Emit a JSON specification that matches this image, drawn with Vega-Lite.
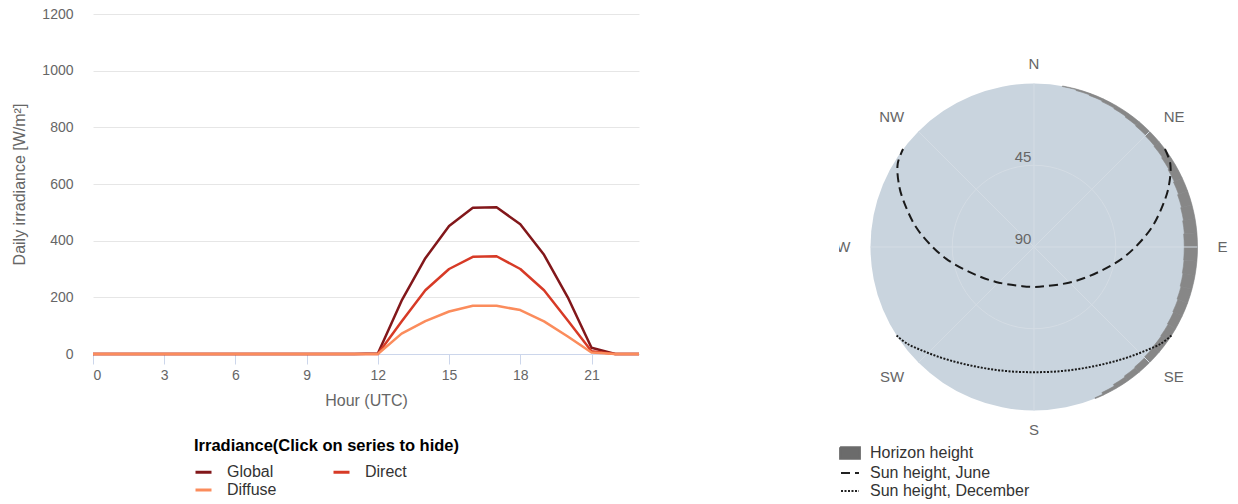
{
  "$schema": "https://vega.github.io/schema/vega-lite/v6.json",
  "padding": {"left": 11, "top": 7, "right": 0, "bottom": 0},
  "background": "white",
  "bounds": "flush",
  "spacing": 200,
  "config": {"view": {"stroke": null}, "font": "Liberation Sans"},
  "hconcat": [
    {
      "width": 546,
      "height": 340,
      "data": {"values": [
        {"hour":0,"series":"Global","value":0},{"hour":1,"series":"Global","value":0},{"hour":2,"series":"Global","value":0},{"hour":3,"series":"Global","value":0},{"hour":4,"series":"Global","value":0},{"hour":5,"series":"Global","value":0},{"hour":6,"series":"Global","value":0},{"hour":7,"series":"Global","value":0},{"hour":8,"series":"Global","value":0},{"hour":9,"series":"Global","value":0},{"hour":10,"series":"Global","value":0},{"hour":11,"series":"Global","value":0},{"hour":12,"series":"Global","value":2},{"hour":13,"series":"Global","value":188},{"hour":14,"series":"Global","value":338},{"hour":15,"series":"Global","value":452},{"hour":16,"series":"Global","value":516},{"hour":17,"series":"Global","value":518},{"hour":18,"series":"Global","value":458},{"hour":19,"series":"Global","value":350},{"hour":20,"series":"Global","value":200},{"hour":21,"series":"Global","value":22},{"hour":22,"series":"Global","value":0},{"hour":23,"series":"Global","value":0},
        {"hour":0,"series":"Direct","value":0},{"hour":1,"series":"Direct","value":0},{"hour":2,"series":"Direct","value":0},{"hour":3,"series":"Direct","value":0},{"hour":4,"series":"Direct","value":0},{"hour":5,"series":"Direct","value":0},{"hour":6,"series":"Direct","value":0},{"hour":7,"series":"Direct","value":0},{"hour":8,"series":"Direct","value":0},{"hour":9,"series":"Direct","value":0},{"hour":10,"series":"Direct","value":0},{"hour":11,"series":"Direct","value":0},{"hour":12,"series":"Direct","value":0},{"hour":13,"series":"Direct","value":115},{"hour":14,"series":"Direct","value":225},{"hour":15,"series":"Direct","value":300},{"hour":16,"series":"Direct","value":343},{"hour":17,"series":"Direct","value":345},{"hour":18,"series":"Direct","value":300},{"hour":19,"series":"Direct","value":225},{"hour":20,"series":"Direct","value":118},{"hour":21,"series":"Direct","value":10},{"hour":22,"series":"Direct","value":0},{"hour":23,"series":"Direct","value":0},
        {"hour":0,"series":"Diffuse","value":0},{"hour":1,"series":"Diffuse","value":0},{"hour":2,"series":"Diffuse","value":0},{"hour":3,"series":"Diffuse","value":0},{"hour":4,"series":"Diffuse","value":0},{"hour":5,"series":"Diffuse","value":0},{"hour":6,"series":"Diffuse","value":0},{"hour":7,"series":"Diffuse","value":0},{"hour":8,"series":"Diffuse","value":0},{"hour":9,"series":"Diffuse","value":0},{"hour":10,"series":"Diffuse","value":0},{"hour":11,"series":"Diffuse","value":0},{"hour":12,"series":"Diffuse","value":0},{"hour":13,"series":"Diffuse","value":72},{"hour":14,"series":"Diffuse","value":116},{"hour":15,"series":"Diffuse","value":150},{"hour":16,"series":"Diffuse","value":170},{"hour":17,"series":"Diffuse","value":170},{"hour":18,"series":"Diffuse","value":155},{"hour":19,"series":"Diffuse","value":115},{"hour":20,"series":"Diffuse","value":62},{"hour":21,"series":"Diffuse","value":5},{"hour":22,"series":"Diffuse","value":0},{"hour":23,"series":"Diffuse","value":0}
      ]},
      "mark": {"type": "line", "strokeWidth": 2.5, "strokeJoin": "round"},
      "encoding": {
        "x": {"field": "hour", "type": "quantitative", "scale": {"domain": [0, 23], "nice": false},
          "axis": {"values": [0,3,6,9,12,15,18,21], "title": "Hour (UTC)", "grid": false, "domainColor": "#ccd6eb", "tickColor": "#ccd6eb", "tickSize": 10, "labelFontSize": 14, "labelColor": "#666666", "labelPadding": 4, "titleFontSize": 16, "titleColor": "#666666", "titleFontWeight": "normal", "titlePadding": 10}},
        "y": {"field": "value", "type": "quantitative", "scale": {"domain": [0, 1200], "nice": false},
          "axis": {"values": [0,200,400,600,800,1000,1200], "format": "d", "title": "Daily irradiance [W/m²]", "grid": true, "gridColor": "#e6e6e6", "domain": false, "ticks": false, "labelFontSize": 14, "labelColor": "#666666", "labelPadding": 20, "titleFontSize": 16, "titleColor": "#666666", "titleFontWeight": "normal", "titlePadding": 14}},
        "color": {"field": "series", "type": "nominal",
          "scale": {"domain": ["Global", "Direct", "Diffuse"], "range": ["#82171a", "#d73a26", "#fb8c5c"]},
          "legend": {"orient": "none", "legendX": 101, "legendY": 424, "direction": "horizontal", "columns": 2, "columnPadding": 50, "rowPadding": 0, "title": "Irradiance(Click on series to hide)", "titleLimit": 500, "titleFontSize": 16.5, "titleFontWeight": "bold", "titleColor": "#000000", "titlePadding": 8, "symbolType": "stroke", "symbolSize": 256, "symbolStrokeWidth": 3, "labelFontSize": 16, "labelColor": "#333333", "labelOffset": 14, "padding": 0}}
      }
    },
    {
      "width": 390,
      "height": 466,
      "layer": [
        {
          "data": {"values": [{"az0": 0, "az1": 360, "eOut": 0, "eIn": 90}]},
          "mark": {"type": "arc", "fill": "#c9d4de"},
          "encoding": {
            "theta": {"field": "az0", "type": "quantitative", "scale": {"domain": [0, 360], "range": [0, 6.283185307179586]}},
            "theta2": {"field": "az1"},
            "radius": {"field": "eOut", "type": "quantitative", "scale": {"type": "linear", "domain": [0, 90], "range": [163.5, 0]}},
            "radius2": {"field": "eIn"}
          }
        },
        {
          "data": {"values": [
            {"az0":10,"az1":15,"e0":0,"hz":0.3},{"az0":15,"az1":20,"e0":0,"hz":0.8},{"az0":20,"az1":25,"e0":0,"hz":1.2},{"az0":25,"az1":30,"e0":0,"hz":1.7},{"az0":30,"az1":35,"e0":0,"hz":2.1},{"az0":35,"az1":40,"e0":0,"hz":2.6},{"az0":40,"az1":45,"e0":0,"hz":3.0},{"az0":45,"az1":50,"e0":0,"hz":3.4},{"az0":50,"az1":55,"e0":0,"hz":3.8},{"az0":55,"az1":60,"e0":0,"hz":4.3},{"az0":60,"az1":65,"e0":0,"hz":4.8},{"az0":65,"az1":70,"e0":0,"hz":5.3},{"az0":70,"az1":75,"e0":0,"hz":5.9},{"az0":75,"az1":80,"e0":0,"hz":6.4},{"az0":80,"az1":85,"e0":0,"hz":6.9},{"az0":85,"az1":90,"e0":0,"hz":7.3},{"az0":90,"az1":95,"e0":0,"hz":7.3},{"az0":95,"az1":100,"e0":0,"hz":7.1},{"az0":100,"az1":105,"e0":0,"hz":6.7},{"az0":105,"az1":110,"e0":0,"hz":6.2},{"az0":110,"az1":115,"e0":0,"hz":5.7},{"az0":115,"az1":120,"e0":0,"hz":5.2},{"az0":120,"az1":125,"e0":0,"hz":4.8},{"az0":125,"az1":130,"e0":0,"hz":4.5},{"az0":130,"az1":135,"e0":0,"hz":4.2},{"az0":135,"az1":140,"e0":0,"hz":3.8},{"az0":140,"az1":145,"e0":0,"hz":3.3},{"az0":145,"az1":150,"e0":0,"hz":2.6},{"az0":150,"az1":155,"e0":0,"hz":1.6},{"az0":155,"az1":158,"e0":0,"hz":0.5}
          ]},
          "mark": {"type": "arc", "fill": "#878787", "stroke": "#878787", "strokeWidth": 0.6},
          "encoding": {
            "theta": {"field": "az0", "type": "quantitative"},
            "theta2": {"field": "az1"},
            "radius": {"field": "e0", "type": "quantitative"},
            "radius2": {"field": "hz"}
          }
        },
        {
          "data": {"values": [{"az0": 0, "az1": 360, "elev": 45, "eIn": 90}]},
          "mark": {"type": "arc", "fill": null, "stroke": "#d4dce4", "strokeWidth": 1},
          "encoding": {
            "theta": {"field": "az0", "type": "quantitative"},
            "theta2": {"field": "az1"},
            "radius": {"field": "elev", "type": "quantitative"},
            "radius2": {"field": "eIn"}
          }
        },
        {
          "data": {"values": [
            {"az":0,"e0":0,"e1":90},{"az":45,"e0":0,"e1":90},{"az":90,"e0":0,"e1":90},{"az":135,"e0":0,"e1":90},{"az":180,"e0":0,"e1":90},{"az":225,"e0":0,"e1":90},{"az":270,"e0":0,"e1":90},{"az":315,"e0":0,"e1":90}
          ]},
          "projection": {"type": "azimuthalEquidistant", "rotate": [180, -90, 0], "reflectX": true, "scale": 104.09, "translate": [195, 233]},
          "mark": {"type": "rule", "stroke": "#d4dce4", "strokeWidth": 1},
          "encoding": {
            "longitude": {"field": "az", "type": "quantitative"},
            "latitude": {"field": "e0", "type": "quantitative"},
            "longitude2": {"field": "az"},
            "latitude2": {"field": "e1"}
          }
        },
        {
          "data": {"values": [
            {"series":"Sun height, June","k":1,"az":53.2,"elev":0},{"series":"Sun height, June","k":2,"az":58.6,"elev":2.1},{"series":"Sun height, June","k":3,"az":66.0,"elev":8.9},{"series":"Sun height, June","k":4,"az":72.7,"elev":16.2},{"series":"Sun height, June","k":5,"az":80.4,"elev":24.1},{"series":"Sun height, June","k":6,"az":88.1,"elev":32.3},{"series":"Sun height, June","k":7,"az":97.5,"elev":41.1},{"series":"Sun height, June","k":8,"az":111.0,"elev":51.8},{"series":"Sun height, June","k":9,"az":132.4,"elev":61.5},{"series":"Sun height, June","k":10,"az":163.4,"elev":67.5},{"series":"Sun height, June","k":11,"az":180,"elev":68.0},{"series":"Sun height, June","k":12,"az":196.6,"elev":67.5},{"series":"Sun height, June","k":13,"az":227.6,"elev":61.5},{"series":"Sun height, June","k":14,"az":249.0,"elev":51.8},{"series":"Sun height, June","k":15,"az":262.5,"elev":41.1},{"series":"Sun height, June","k":16,"az":271.9,"elev":32.3},{"series":"Sun height, June","k":17,"az":279.6,"elev":24.1},{"series":"Sun height, June","k":18,"az":287.3,"elev":16.2},{"series":"Sun height, June","k":19,"az":294.0,"elev":8.9},{"series":"Sun height, June","k":20,"az":301.4,"elev":2.1},{"series":"Sun height, June","k":21,"az":306.8,"elev":0},
            {"series":"Sun height, December","k":1,"az":122.8,"elev":0},{"series":"Sun height, December","k":2,"az":127.3,"elev":2.2},{"series":"Sun height, December","k":3,"az":132.9,"elev":6.2},{"series":"Sun height, December","k":4,"az":138.8,"elev":9.8},{"series":"Sun height, December","k":5,"az":145.0,"elev":13.1},{"series":"Sun height, December","k":6,"az":151.5,"elev":15.9},{"series":"Sun height, December","k":7,"az":158.3,"elev":18.1},{"series":"Sun height, December","k":8,"az":165.4,"elev":19.7},{"series":"Sun height, December","k":9,"az":172.7,"elev":20.7},{"series":"Sun height, December","k":10,"az":180,"elev":21.1},{"series":"Sun height, December","k":11,"az":187.3,"elev":20.7},{"series":"Sun height, December","k":12,"az":194.6,"elev":19.7},{"series":"Sun height, December","k":13,"az":201.7,"elev":18.1},{"series":"Sun height, December","k":14,"az":208.5,"elev":15.9},{"series":"Sun height, December","k":15,"az":215.0,"elev":13.1},{"series":"Sun height, December","k":16,"az":221.2,"elev":9.8},{"series":"Sun height, December","k":17,"az":227.1,"elev":6.2},{"series":"Sun height, December","k":18,"az":232.7,"elev":2.2},{"series":"Sun height, December","k":19,"az":237.2,"elev":0}
          ]},
          "projection": {"type": "azimuthalEquidistant", "rotate": [180, -90, 0], "reflectX": true, "scale": 104.09, "translate": [195, 233]},
          "mark": {"type": "line", "stroke": "#1a1a1a", "strokeWidth": 2, "interpolate": "catmull-rom"},
          "encoding": {
            "longitude": {"field": "az", "type": "quantitative"},
            "latitude": {"field": "elev", "type": "quantitative"},
            "order": {"field": "k", "type": "quantitative"},
            "detail": {"field": "series", "type": "nominal"},
            "strokeDash": {"field": "series", "type": "nominal",
              "scale": {"domain": ["Horizon height", "Sun height, June", "Sun height, December"], "range": [[1, 0], [9, 5], [2, 1.5]]},
              "legend": {"orient": "none", "legendX": 747, "legendY": 429, "title": null, "symbolType": "stroke", "symbolSize": 324, "symbolStrokeWidth": 2, "symbolStrokeColor": "#222222", "labelFontSize": 16, "labelColor": "#333333", "labelOffset": 10, "rowPadding": 0, "padding": 0,
                "encode": {"symbols": {"update": {
                  "shape": {"signal": "datum.value === 'Horizon height' ? 'M-1.1,-0.65L1.1,-0.65L1.1,0.65L-1.1,0.65Z' : 'stroke'"},
                  "fill": {"signal": "datum.value === 'Horizon height' ? '#6b6b6b' : 'transparent'"},
                  "stroke": {"signal": "datum.value === 'Horizon height' ? '#6b6b6b' : '#222222'"}
                }}}}
            }
          }
        },
        {
          "data": {"values": [{"d":"N","az":0,"lat":-10.5},{"d":"S","az":180,"lat":-11}]},
          "projection": {"type": "azimuthalEquidistant", "rotate": [180, -90, 0], "reflectX": true, "scale": 104.09, "translate": [195, 233]},
          "mark": {"type": "text", "fontSize": 15, "color": "#666666", "align": "center", "baseline": "middle"},
          "encoding": {
            "longitude": {"field": "az", "type": "quantitative"},
            "latitude": {"field": "lat", "type": "quantitative"},
            "text": {"field": "d", "type": "nominal"}
          }
        },
        {
          "data": {"values": [{"d":"NE","az":45,"lat":-11},{"d":"E","az":90,"lat":-11},{"d":"SE","az":135,"lat":-11}]},
          "projection": {"type": "azimuthalEquidistant", "rotate": [180, -90, 0], "reflectX": true, "scale": 104.09, "translate": [195, 233]},
          "mark": {"type": "text", "fontSize": 15, "color": "#666666", "align": "left", "baseline": "middle"},
          "encoding": {
            "longitude": {"field": "az", "type": "quantitative"},
            "latitude": {"field": "lat", "type": "quantitative"},
            "text": {"field": "d", "type": "nominal"}
          }
        },
        {
          "data": {"values": [{"d":"SW","az":225,"lat":-11},{"d":"W","az":270,"lat":-11},{"d":"NW","az":315,"lat":-11}]},
          "projection": {"type": "azimuthalEquidistant", "rotate": [180, -90, 0], "reflectX": true, "scale": 104.09, "translate": [195, 233]},
          "mark": {"type": "text", "fontSize": 15, "color": "#666666", "align": "right", "baseline": "middle"},
          "encoding": {
            "longitude": {"field": "az", "type": "quantitative"},
            "latitude": {"field": "lat", "type": "quantitative"},
            "text": {"field": "d", "type": "nominal"}
          }
        },
        {
          "data": {"values": [{"t":"45","az":0,"elev":45},{"t":"90","az":0,"elev":90}]},
          "projection": {"type": "azimuthalEquidistant", "rotate": [180, -90, 0], "reflectX": true, "scale": 104.09, "translate": [195, 233]},
          "mark": {"type": "text", "fontSize": 15, "color": "#666666", "align": "center", "baseline": "middle", "dx": -11, "dy": -8},
          "encoding": {
            "longitude": {"field": "az", "type": "quantitative"},
            "latitude": {"field": "elev", "type": "quantitative"},
            "text": {"field": "t", "type": "nominal"}
          }
        }
      ]
    }
  ]
}
